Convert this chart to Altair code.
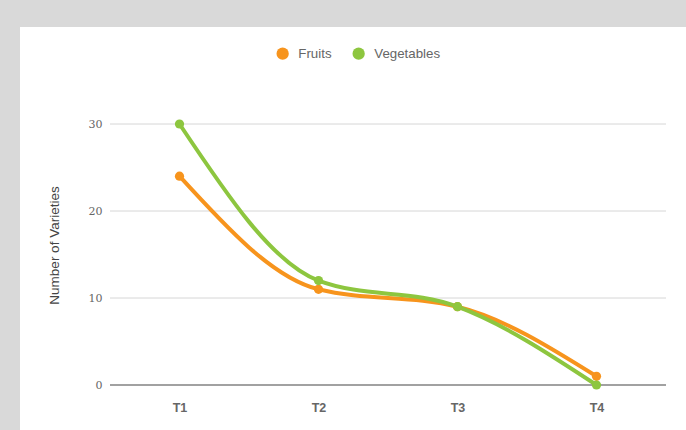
import altair as alt
import pandas as pd

categories = ["T1", "T2", "T3", "T4"]
fruits = [24, 11, 9, 1]
vegetables = [30, 12, 9, 0]
series = ["Fruits", "Vegetables"]
colors = ["#f7941d", "#8dc63f"]
grid_values = [10, 20, 30]
base_value = [0]

rows = []
for s, vals in zip(series, [fruits, vegetables]):
    for c, v in zip(categories, vals):
        rows.append({"time": c, "series": s, "value": v})
df = pd.DataFrame(rows)

card = alt.Chart(pd.DataFrame({"a": [0]})).mark_rect(color="white", clip=False).encode(
    x=alt.value(-90), x2=alt.value(600), y=alt.value(-97), y2=alt.value(320)
)

yscale = alt.Scale(domain=[0, 30], nice=False)

x_enc = alt.X("time:N", sort=categories,
              scale=alt.Scale(type="point", padding=0.5),
              axis=alt.Axis(title=None, labelAngle=0, ticks=False, domain=False, zindex=1,
                            labelFont="Liberation Sans", labelFontWeight="bold",
                            labelFontSize=12.5, labelColor="#666", labelPadding=16, grid=False))
y_enc = alt.Y("value:Q", scale=yscale,
              axis=alt.Axis(title="Number of Varieties", values=[0, 10, 20, 30], zindex=1,
                            ticks=False, domain=False, grid=False,
                            labelFont="DejaVu Serif", labelFontSize=11, labelColor="#666",
                            labelPadding=8, titleFont="Liberation Sans", titleFontSize=13.5,
                            titleFontWeight="normal", titleColor="#444",
                            titleX=-56, titleY=121, titleBaseline="middle", titleAlign="center",
                            titleAngle=270))
color_enc = alt.Color("series:N", scale=alt.Scale(domain=series, range=colors),
                      legend=alt.Legend(title=None, orient="none", direction="horizontal",
                                        legendX=166, legendY=-77, symbolType="circle",
                                        symbolSize=150, symbolStrokeWidth=0,
                                        labelFont="Liberation Sans", labelFontSize=13.3,
                                        labelColor="#666", columnPadding=20, labelOffset=9))

grid = alt.Chart(pd.DataFrame({"value": grid_values})).mark_rule(color="#d6d6d6", strokeWidth=1).encode(
    y=y_enc)
zero = alt.Chart(pd.DataFrame({"value": base_value})).mark_rule(color="#444", strokeWidth=1.2).encode(
    y=y_enc)

lines = alt.Chart(df).mark_line(interpolate="monotone", strokeWidth=4, clip=False).encode(
    x=x_enc, y=y_enc, color=color_enc)
points = alt.Chart(df).mark_circle(size=85, opacity=1, clip=False).encode(
    x=x_enc, y=y_enc, color=alt.Color("series:N", scale=alt.Scale(domain=series, range=colors), legend=None))

chart = alt.layer(card, grid, zero, lines, points).properties(
    width=556, height=261, background="#d9d9d9",
    autosize=alt.AutoSizeParams(type="none"),
    padding={"left": 110, "top": 124, "right": 20, "bottom": 45},
).configure_view(stroke=None)

chart.save("out.html", embed_options={"renderer": "svg", "actions": False})
